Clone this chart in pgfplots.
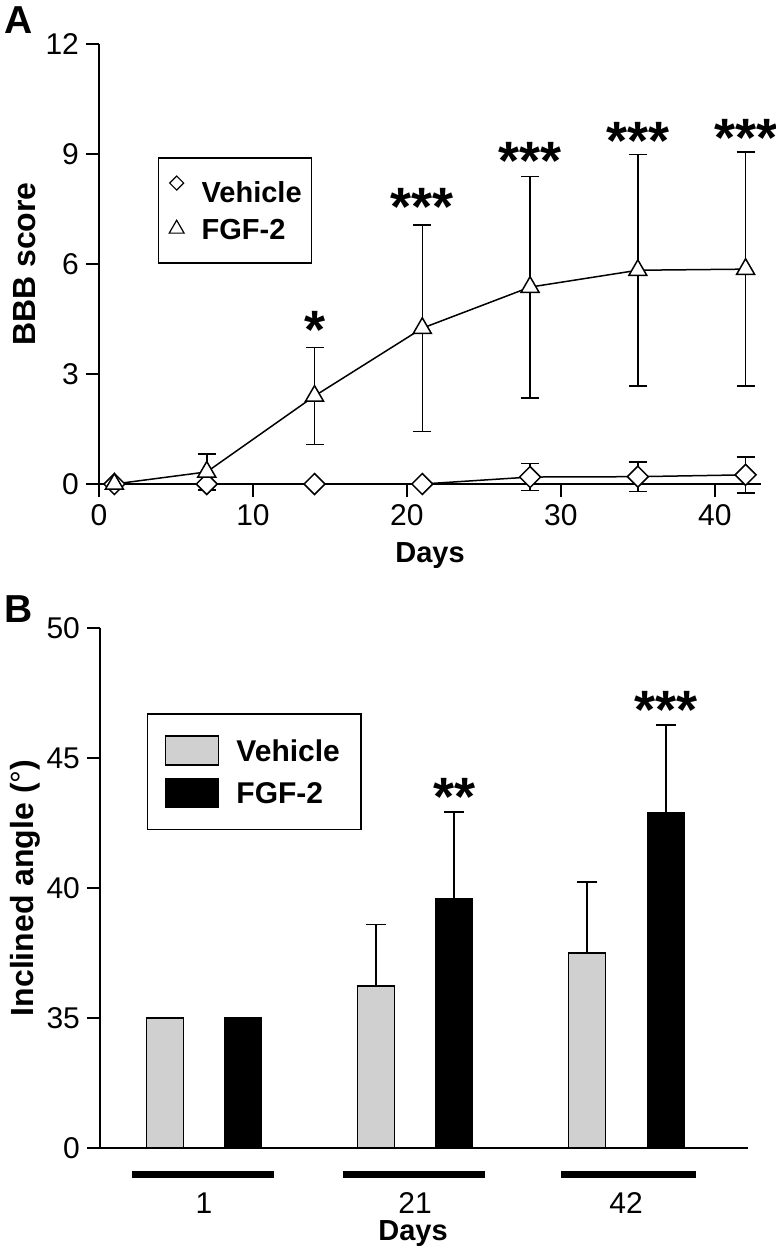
\documentclass[border=0pt]{standalone}
\usepackage{fontspec}
\setmainfont{Liberation Sans}
\usepackage{pgfplots}
\usepackage{pgfplotstable}
\pgfplotsset{compat=1.18}

\pgfplotstableread{
x y e
1 0 0
7 0 0
14 0 0
21 0 0
28 0.19 0.37
35 0.2 0.4
42 0.25 0.49
}\vehA
\pgfplotstableread{
x y e
1 0 0
7 0.33 0.49
14 2.4 1.32
21 4.25 2.82
28 5.37 3.02
35 5.83 3.16
42 5.86 3.19
}\fgfA
% panel B: value axis broken; bars start at 30 (= 0 on the scale)
\pgfplotstableread{
x y e
-0.185 35.0 0
0.815 36.23 2.37
1.815 37.5 2.73
}\vehB
\pgfplotstableread{
x y e
0.185 35.0 0
1.185 39.58 3.34
2.19 42.88 3.39
}\fgfB

\definecolor{bargray}{RGB}{208,208,208}

\begin{document}
\begin{tikzpicture}[x=1pt,y=1pt]
\useasboundingbox (0,0) rectangle (388,-626.5);

\node[font=\bfseries\fontsize{19.5}{19.5}\selectfont, inner sep=0pt] at (9.5,-10) {A};
\node[font=\bfseries\fontsize{19.5}{19.5}\selectfont, inner sep=0pt] at (9.5,-304.5) {B};

\begin{axis}[
  at={(49.5pt,-242pt)}, anchor=south west,
  scale only axis, width=331pt, height=220pt,
  xmin=0, xmax=43, ymin=0, ymax=12,
  axis x line*=bottom, axis y line*=left,
  axis line style={line width=1pt},
  xtick={0,10,20,30,40}, ytick={0,3,6,9,12},
  tick align=outside, major tick length=6.5pt,
  tick style={line width=1pt, black},
  ticklabel style={font=\fontsize{15}{15}\selectfont},
  /pgf/number format/assume math mode=true,
  clip=false,
  xlabel={Days}, ylabel={BBB score},
  ylabel style={font=\bfseries\fontsize{16}{16}\selectfont},
  xlabel style={font=\bfseries\fontsize{14.5}{14.5}\selectfont},
  xlabel style={at={(axis description cs:0.5,-0.162)}, anchor=center},
  ylabel style={at={(axis description cs:-0.112,0.5)}, anchor=center},
  legend cell align=left,
  legend style={at={(0.089,0.743)}, anchor=north west, draw=black, line width=0.75pt,
    font=\bfseries\fontsize{14.5}{14.5}\selectfont,
    inner xsep=1pt, inner ysep=8.8pt, row sep=2.1pt, column sep=4.5pt,
    nodes={inner xsep=4pt, inner ysep=3pt, text height=10.4pt, text depth=0pt}},
]
\addplot[black, line width=0.75pt, mark=square*, mark size=3.7pt,
  mark options={rotate=45, fill=white, line width=0.75pt, solid},
  error bars/.cd, y dir=both, y explicit,
  error bar style={line width=0.75pt, black},
  error mark options={rotate=90, mark size=4.5pt, line width=0.75pt, black},
  /pgfplots/legend image code/.code={
    \path[draw=none, fill=none] (-8pt,0) -- (3.5pt,0);
    \draw[black, line width=0.6pt, fill=white] (0,3.5pt) -- (3.5pt,0) -- (0,-3.5pt) -- (-3.5pt,0) -- cycle;}
  ] table[x=x, y=y, y error=e] {\vehA};
\addlegendentry{Vehicle}
\addplot[black, line width=0.75pt, mark=triangle*, mark size=5.2pt,
  mark options={fill=white, line width=0.75pt, solid},
  error bars/.cd, y dir=both, y explicit,
  error bar style={line width=0.75pt, black},
  error mark options={rotate=90, mark size=4.5pt, line width=0.75pt, black},
  /pgfplots/legend image code/.code={
    \path[draw=none, fill=none] (-8pt,0) -- (3.5pt,0);
    \draw[black, line width=0.6pt, fill=white] (90:4.3pt) -- (210:4.3pt) -- (330:4.3pt) -- cycle;}
  ] table[x=x, y=y, y error=e] {\fgfA};
\addlegendentry{FGF-2}

\begin{scope}[font=\bfseries\fontsize{27}{27}\selectfont, every node/.style={inner sep=0pt, anchor=center}]
\node at (axis cs:14,4.2) {*};
\node at (axis cs:21,7.55) {***};
\node at (axis cs:28,8.82) {***};
\node at (axis cs:35,9.36) {***};
\node at (axis cs:42,9.44) {***};
\end{scope}
\end{axis}

\begin{axis}[
  at={(50pt,-574pt)}, anchor=south west,
  scale only axis, width=324pt, height=260pt,
  xmin=-0.493, xmax=2.578, ymin=30, ymax=50,
  axis x line*=bottom, axis y line*=left,
  axis line style={line width=1pt},
  xtick={0,1,2}, xticklabels={1,21,42},
  ytick={30,35,40,45,50}, yticklabels={0,35,40,45,50},
  tick align=outside, major tick length=6.5pt,
  tick style={line width=1pt, black},
  major x tick style={draw=none},
  ticklabel style={font=\fontsize{15}{15}\selectfont},
  xticklabel style={anchor=center, yshift=-21pt},
  /pgf/number format/assume math mode=true,
  clip=false,
  xlabel={Days}, ylabel={Inclined angle (\textmd{°})},
  ylabel style={font=\bfseries\fontsize{16}{16}\selectfont},
  xlabel style={font=\bfseries\fontsize{14.5}{14.5}\selectfont},
  xlabel style={at={(axis description cs:0.483,-0.1635)}, anchor=center},
  ylabel style={at={(axis description cs:-0.1157,0.5)}, anchor=center},
  legend cell align=left,
  legend style={at={(0.0725,0.8365)}, anchor=north west, draw=black, line width=0.75pt,
    font=\bfseries\fontsize{15}{15}\selectfont,
    inner xsep=2pt, inner ysep=10pt, row sep=4.5pt, column sep=0pt,
    nodes={inner xsep=8.5pt, inner ysep=3pt, text height=10.7pt, text depth=0pt}},
  ybar, bar width=0.175, bar shift=0pt,
]
\addplot[draw=black, fill=bargray, line width=0.75pt,
  error bars/.cd, y dir=plus, y explicit,
  error bar style={line width=0.75pt, black},
  error mark options={rotate=90, mark size=5pt, line width=0.75pt, black},
  /pgfplots/legend image code/.code={
    \path[draw=none, fill=none] (-7pt,0) -- (0,0);
    \draw[black, line width=0.75pt, fill=bargray] (0,-7.25pt) rectangle (26.5pt,7.25pt);}
  ] table[x=x, y=y, y error=e] {\vehB};
\addlegendentry{Vehicle\hspace{14pt}}
\addplot[draw=black, fill=black, line width=0.75pt,
  error bars/.cd, y dir=plus, y explicit,
  error bar style={line width=0.75pt, black},
  error mark options={rotate=90, mark size=5pt, line width=0.75pt, black},
  /pgfplots/legend image code/.code={
    \path[draw=none, fill=none] (-7pt,0) -- (0,0);
    \draw[black, line width=0.75pt, fill=black] (0,-7.25pt) rectangle (26.5pt,7.25pt);}
  ] table[x=x, y=y, y error=e] {\fgfB};
\addlegendentry{FGF-2}

\fill[black] (axis cs:-0.34,29.12) rectangle (axis cs:0.33,28.83);
\fill[black] (axis cs:0.66,29.12) rectangle (axis cs:1.33,28.83);
\fill[black] (axis cs:1.69,29.12) rectangle (axis cs:2.33,28.83);

\begin{scope}[font=\bfseries\fontsize{27}{27}\selectfont, every node/.style={inner sep=0pt, anchor=center}]
\node at (axis cs:1.185,43.5) {**};
\node at (axis cs:2.19,46.85) {***};
\end{scope}
\end{axis}
\end{tikzpicture}
\end{document}
